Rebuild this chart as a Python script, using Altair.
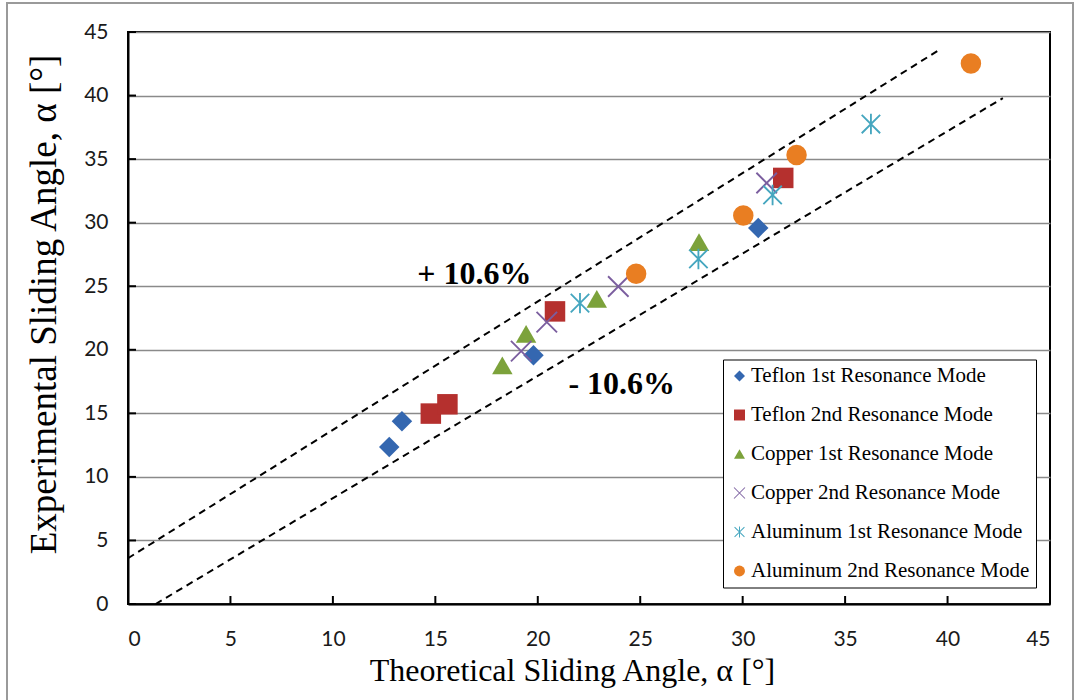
import math
import altair as alt
import pandas as pd

# Series names, in legend order
series_names = [
    "Teflon 1st Resonance Mode",
    "Teflon 2nd Resonance Mode",
    "Copper 1st Resonance Mode",
    "Copper 2nd Resonance Mode",
    "Aluminum 1st Resonance Mode",
    "Aluminum 2nd Resonance Mode",
]

# Theoretical (x) and experimental (y) sliding angles, degrees
teflon1_x = [12.75, 13.37, 19.79, 30.76]
teflon1_y = [12.36, 14.38, 19.56, 29.59]
teflon2_x = [14.78, 15.59, 20.84, 31.98]
teflon2_y = [14.98, 15.71, 23.02, 33.52]
copper1_x = [18.27, 19.43, 22.88, 27.87]
copper1_y = [18.77, 21.26, 24.01, 28.46]
copper2_x = [19.19, 20.44, 23.93, 31.17]
copper2_y = [19.90, 22.18, 24.98, 33.12]
alu1_x = [22.06, 27.84, 31.46, 36.26]
alu1_y = [23.67, 27.15, 32.18, 37.76]
alu2_x = [24.80, 30.03, 32.63, 41.14]
alu2_y = [25.98, 30.56, 35.32, 42.52]

# +/- 10.6 % band lines (end points)
band_names = ["+ 10.6%", "- 10.6%"]
upper_x = [0.0, 39.6]
upper_y = [3.6, 43.6]
lower_x = [1.35, 42.7]
lower_y = [0.0, 39.8]

# Band labels
label_text = ["+ 10.6%", "- 10.6%"]
label_x = [16.9, 24.1]
label_y = [25.2, 16.5]

x_ticks = [0, 5, 10, 15, 20, 25, 30, 35, 40, 45]
y_ticks = [0, 5, 10, 15, 20, 25, 30, 35, 40, 45]

colors = ["#3467B0", "#B5302E", "#7CA23B", "#7B5E9F", "#45A6BF", "#E97E22"]


def bar(x0, y0, x1, y1, t):
    """Thin rectangle from (x0, y0) to (x1, y1) as a closed path, fixed winding."""
    dx, dy = x1 - x0, y1 - y0
    n = math.hypot(dx, dy)
    px, py = -dy / n * t, dx / n * t
    pts = [(x0 - px, y0 - py), (x1 - px, y1 - py), (x1 + px, y1 + py), (x0 + px, y0 + py)]
    return "M" + "L".join(f"{a:.3f},{b:.3f}" for a, b in pts) + "Z"


# Thin-stroke markers as filled outlines so all series share one filled mark
x_mark = bar(-1, -1, 1, 1, 0.09) + bar(-1, 1, 1, -1, 0.09)
ast_mark = bar(0, -1, 0, 1, 0.09) + bar(-0.9, -0.9, 0.9, 0.9, 0.09) + bar(-0.9, 0.9, 0.9, -0.9, 0.09)
shapes = ["diamond", "square", "triangle-up", x_mark, ast_mark, "circle"]

xs = [teflon1_x, teflon2_x, copper1_x, copper2_x, alu1_x, alu2_x]
ys = [teflon1_y, teflon2_y, copper1_y, copper2_y, alu1_y, alu2_y]
rows = []
for name, sx, sy in zip(series_names, xs, ys):
    for a, b in zip(sx, sy):
        rows.append({"theo": a, "exp": b, "series": name})
points_df = pd.DataFrame(rows)

band_df = pd.DataFrame({
    "theo": upper_x + lower_x,
    "exp": upper_y + lower_y,
    "band": [band_names[0]] * 2 + [band_names[1]] * 2,
})
label_df = pd.DataFrame({"theo": label_x, "exp": label_y, "text": label_text})
xtick_df = pd.DataFrame({"v": x_ticks})
ytick_df = pd.DataFrame({"v": y_ticks})

W, H = 922, 572
SERIF = "Liberation Serif"

x_scale = alt.Scale(domain=[0, 45], nice=False, zero=False)
y_scale = alt.Scale(domain=[0, 45], nice=False, zero=False)

x_enc = alt.X(
    "theo:Q", scale=x_scale,
    axis=alt.Axis(
        values=x_ticks, grid=False, tickSize=0, labelPadding=24,
        title="Theoretical Sliding Angle, α [°]", titlePadding=6,
        titleFontSize=32, titleX=444,
    ),
)
y_enc = alt.Y(
    "exp:Q", scale=y_scale,
    axis=alt.Axis(
        values=y_ticks, grid=True, tickSize=0, labelPadding=20,
        title="Experimental Sliding Angle, α [°]", titlePadding=20,
        titleFontSize=37, titleY=272,
    ),
)

legend = alt.Legend(
    title=None, orient="none", legendX=595, legendY=327.5,
)

points = alt.Chart(points_df).mark_point(filled=True, size=420, opacity=1).encode(
    x=x_enc,
    y=y_enc,
    color=alt.Color("series:N", scale=alt.Scale(domain=series_names, range=colors), legend=legend),
    shape=alt.Shape("series:N", scale=alt.Scale(domain=series_names, range=shapes), legend=legend),
)

bands = alt.Chart(band_df).mark_line(
    color="black", strokeWidth=2, strokeDash=[7, 5]
).encode(x="theo:Q", y="exp:Q", detail="band:N")

labels = alt.Chart(label_df).mark_text(
    font=SERIF, fontSize=32, fontWeight="bold", color="black",
    align="center", baseline="alphabetic",
).encode(x="theo:Q", y="exp:Q", text="text:N")

# Inward tick marks
xticks = alt.Chart(xtick_df).mark_rule(color="black", strokeWidth=2).encode(
    x="v:Q", y=alt.value(H - 8), y2=alt.value(H)
)
yticks = alt.Chart(ytick_df).mark_rule(color="black", strokeWidth=2).encode(
    y="v:Q", x=alt.value(0), x2=alt.value(8)
)

# Outer chart frame
frame = alt.Chart(pd.DataFrame({"f": [0]})).mark_rect(
    fillOpacity=0, stroke="#9a9a9a", strokeWidth=2, clip=False
).encode(x=alt.value(-121), x2=alt.value(945), y=alt.value(-29), y2=alt.value(720))

chart = alt.layer(frame, bands, xticks, yticks, points, labels).properties(
    width=W, height=H,
    autosize=alt.AutoSizeParams(type="none"),
    padding={"left": 128, "top": 32, "right": 30, "bottom": 96},
    background="white",
).configure_view(
    stroke="black", strokeWidth=2
).configure_axis(
    labelFont="Lato", labelFontSize=21, labelColor="#1a1a1a",
    titleFont=SERIF, titleFontWeight="normal", titleColor="black",
    domainColor="black", domainWidth=2,
    gridColor="#8a8a8a", gridWidth=1.5,
).configure_legend(
    labelFont=SERIF, labelFontSize=21, labelColor="black", labelLimit=400,
    symbolSize=120, symbolStrokeWidth=0, labelOffset=1,
    padding=6, rowPadding=17,
    strokeColor="black", fillColor="white",
)

chart.save("out.html", embed_options={"renderer": "svg", "actions": False})
